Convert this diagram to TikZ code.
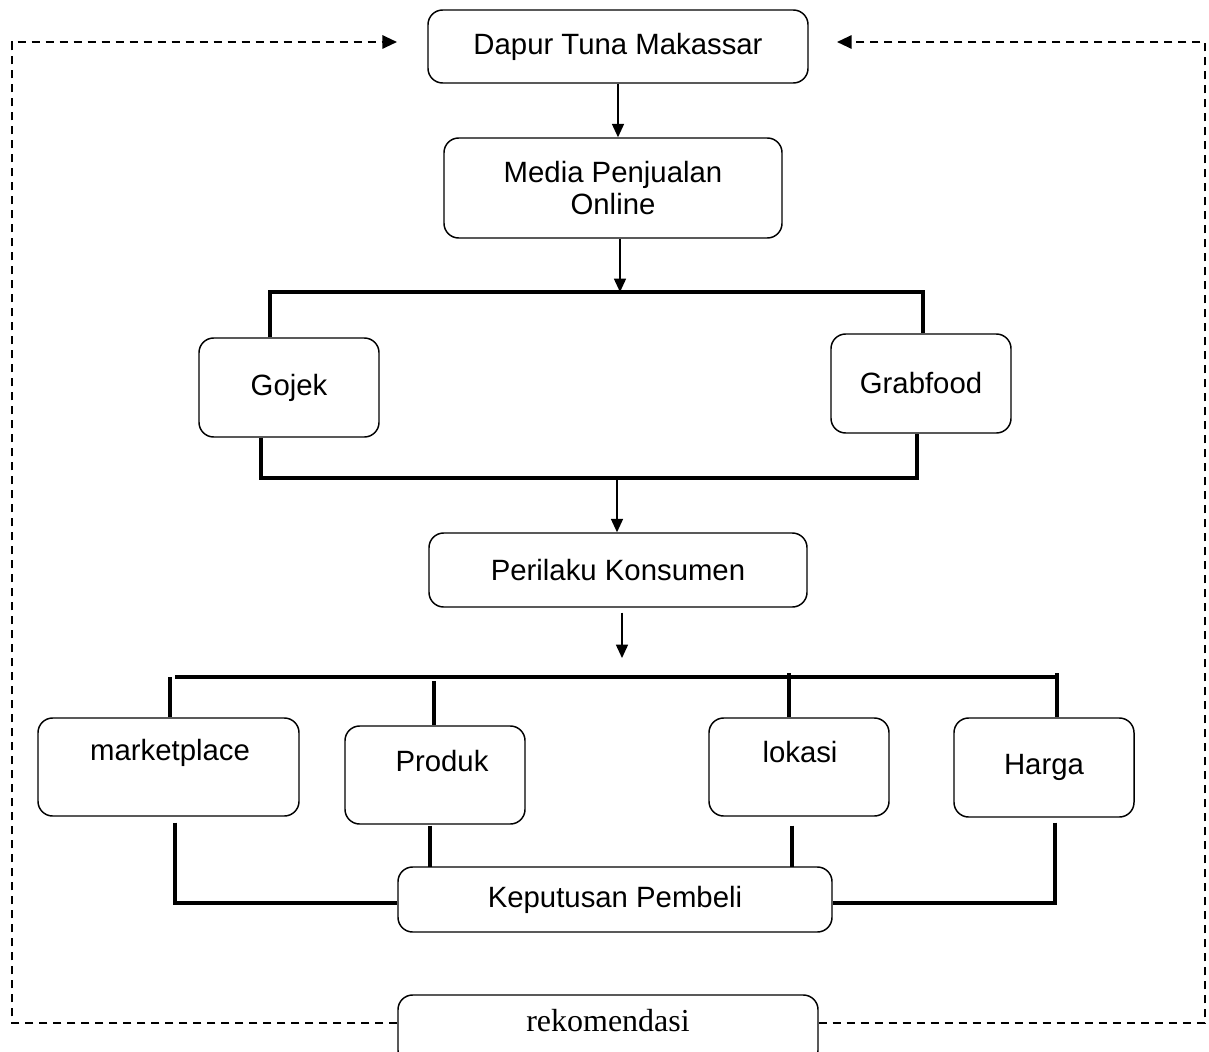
\documentclass[tikz,border=0pt]{standalone}
\usepackage{fontspec}
\setmainfont{Liberation Sans}
\newfontfamily\serifrm{Liberation Serif}
\usetikzlibrary{arrows.meta,calc}
\begin{document}
\begin{tikzpicture}[x=0.75pt,y=-0.75pt,
  box/.style={draw,line width=1.1pt,rounded corners=11pt,inner sep=0pt,
    font=\fontsize{22}{24}\selectfont,align=center},
  txt/.style={inner sep=0pt,font=\fontsize{22}{24}\selectfont,align=center},
  arr/.style={line width=1.1pt,-{Triangle[length=10pt,width=9pt]}},
  bus/.style={line width=2.6pt},
  busthick/.style={line width=3.7pt},
  fb/.style={line width=1.5pt,dash pattern=on 6.5pt off 4pt,-{Triangle[length=11pt,width=10pt]}}]
\useasboundingbox (0,0) rectangle (1209,1052);
\clip (0,0) rectangle (1209,1052);

% boxes
\node[box,minimum width=285pt,minimum height=54.75pt] (dapur) at (618,46.5) {Dapur Tuna Makassar};
\node[box,minimum width=253.5pt,minimum height=75pt] (media) at (613,188) {Media Penjualan\\Online};
\node[box,minimum width=135pt,minimum height=74.25pt] (gojek) at (289,387.5) {Gojek};
\node[box,minimum width=135pt,minimum height=74.25pt] (grab) at (921,383.5) {Grabfood};
\node[box,minimum width=283.5pt,minimum height=55.5pt] (peri) at (618,570) {Perilaku Konsumen};
\node[box,minimum width=195.75pt,minimum height=73.5pt] (market) at (168.5,767) {};
\node[txt] (tmarket) at (170,753) {marketplace};
\node[box,minimum width=135pt,minimum height=73.5pt] (produk) at (435,775) {};
\node[txt] (tproduk) at (442,761) {Produk};
\node[box,minimum width=135pt,minimum height=73.5pt] (lokasi) at (799,767) {};
\node[txt] (tlokasi) at (800,752) {lokasi};
\node[box,minimum width=135pt,minimum height=74.25pt] (harga) at (1044,767.5) {Harga};
\node[box,minimum width=325.5pt,minimum height=48.75pt] (kep) at (615,899.5) {Keputusan Pembeli};
\node[box,minimum width=315pt,minimum height=52.5pt] (rek) at (608,1030) {};
\node[txt,font=\serifrm\fontsize{24}{26}\selectfont] (trek) at (608,1021) {rekomendasi};

% coordinates
\coordinate (b1) at (620,292);
\coordinate (bL) at (270,292);
\coordinate (bR) at (923,292);
\coordinate (cL) at (261,478);
\coordinate (cR) at (917,478);
\coordinate (cM) at (617,478);
\coordinate (dTip) at (622,658);
\coordinate (eL) at (175,677);
\coordinate (eR) at (1057,677);
\coordinate (eM) at (170,677);
\coordinate (eP) at (434,681);
\coordinate (eK) at (789,673);
\coordinate (eH) at (1057,673);
\coordinate (fL) at (175,903);
\coordinate (fR) at (1055,903);
\coordinate (gL) at (12,42);
\coordinate (gR) at (1205,42);
\coordinate (aL) at (397,42);
\coordinate (aR) at (837,42);
\coordinate (hY) at (0,1023);

% arrows
\draw[arr] (dapur.south) -- (dapur.south |- media.north);
\draw[arr] (media.south -| b1) -- (b1);
\draw[bus] (gojek.north -| bL) |- (bR) -- (grab.north -| bR);
\draw[bus] (gojek.south -| cL) |- (cR) -- (grab.south -| cR);
\draw[arr] (cM) -- (cM |- peri.north);
\draw[arr] ($(peri.south -| dTip)+(0,5)$) -- (dTip);

% second branch
\draw[bus] (eL) -- (eR);
\draw[bus] (eM) -- (market.north -| eM);
\draw[bus] (eP) -- (produk.north -| eP);
\draw[bus] (eK) -- (lokasi.north -| eK);
\draw[bus] (eH) -- (harga.north -| eH);

% to Keputusan
\draw[bus] ($(market.south -| fL)+(0,6)$) -- (fL) -- (kep.west |- fL);
\draw[bus] ($(harga.south -| fR)+(0,5)$) -- (fR) -- (kep.east |- fR);
\draw[busthick] ($(produk.south)+(-5,1)$) -- ($(produk.south |- kep.north)+(-5,1)$);
\draw[busthick] ($(lokasi.south -| 792,0)+(0,9)$) -- ($(kep.north -| 792,0)+(0,1)$);

% feedback dashed
\draw[fb] (rek.west |- hY) -| (gL) -- (aL);
\draw[fb] (rek.east |- hY) -| (gR) -- (aR);
\end{tikzpicture}
\end{document}
